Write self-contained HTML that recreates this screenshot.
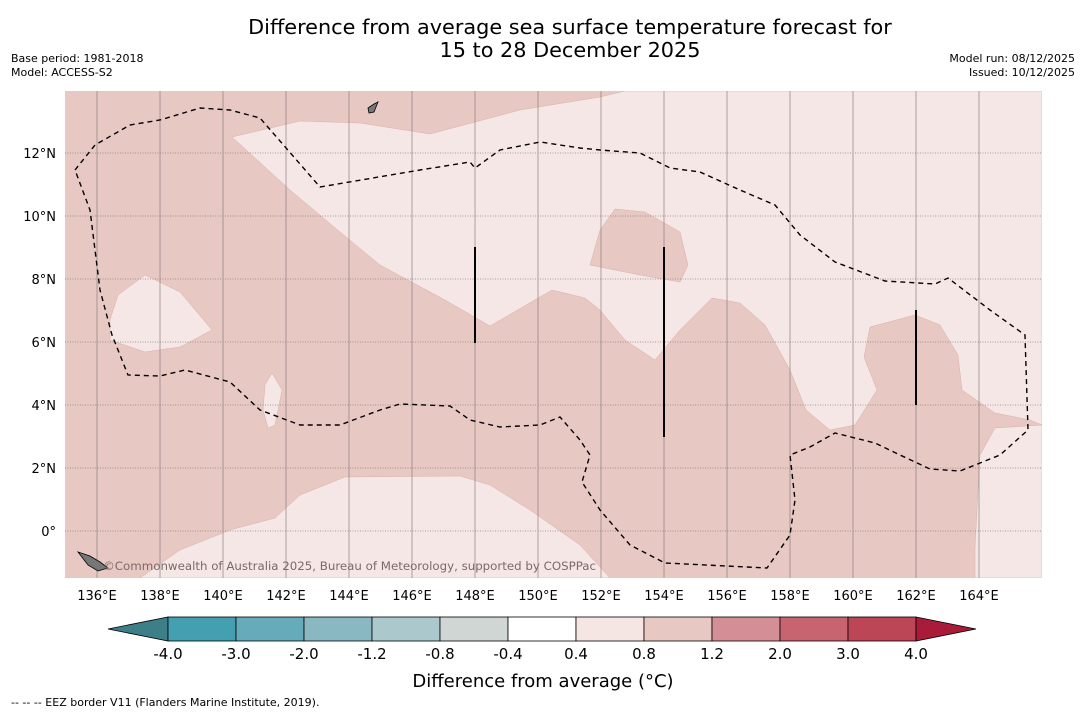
<!DOCTYPE html>
<html><head><meta charset="utf-8"><style>
body{margin:0;background:#fff;width:1085px;height:713px;overflow:hidden;font-family:"Liberation Sans","DejaVu Sans",sans-serif;}
svg{position:absolute;left:0;top:0}
</style></head><body>
<svg width="1085" height="713" font-family="DejaVu Sans, Liberation Sans, sans-serif">
<text x="570" y="34" text-anchor="middle" font-size="20.8">Difference from average sea surface temperature forecast for</text>
<text x="570" y="57" text-anchor="middle" font-size="20.8">15 to 28 December 2025</text>
<text x="11" y="62" font-size="11">Base period: 1981-2018</text>
<text x="11" y="76" font-size="11">Model: ACCESS-S2</text>
<text x="1075" y="62" font-size="11" text-anchor="end">Model run: 08/12/2025</text>
<text x="1075" y="76" font-size="11" text-anchor="end">Issued: 10/12/2025</text>
<g>
<clipPath id="mc"><rect x="65" y="91" width="977" height="487"/></clipPath>
<g clip-path="url(#mc)">
<rect x="65" y="91" width="977" height="487" fill="#e8c8c3"/>
<polygon fill="#f5e7e5" stroke="#d8b0ab" stroke-width="0.5" points="232,137 300,121 360,123 430,134 520,110 600,97 625,91 1042,91 1042,425 1030,420 995,413 962,390 958,355 940,325 915,315 870,327 864,357 877,390 855,425 830,430 806,410 790,370 765,325 740,303 712,298 680,330 655,360 625,340 600,310 585,298 552,290 490,326 445,300 380,265 340,232 290,190"/>
<polygon fill="#e8c8c3" stroke="#d8b0ab" stroke-width="0.5" points="590,265 600,230 615,209 645,212 680,232 688,265 680,282 640,275"/>
<polygon fill="#f5e7e5" stroke="#d8b0ab" stroke-width="0.5" points="140,578 180,550 230,530 275,518 300,495 345,477 460,476 490,485 530,510 580,545 610,578"/>
<polygon fill="#f5e7e5" stroke="#d8b0ab" stroke-width="0.5" points="975,578 975,548 978,490 980,455 995,428 1042,425 1042,578"/>
<polygon fill="#f5e7e5" stroke="#d8b0ab" stroke-width="0.5" points="110,320 118,295 145,275 180,292 212,330 180,347 145,352 110,340"/>
<polygon fill="#f5e7e5" stroke="#d8b0ab" stroke-width="0.5" points="265,385 272,373 282,390 275,425 268,428 263,410"/>
<g id="grid" stroke="#8a8080" stroke-width="0.7"></g>
<polyline fill="none" stroke="#000" stroke-width="1.4" stroke-dasharray="5,4" points="75,170 95,145 130,125 160,120 200,108 230,110 260,118 320,187 420,170 470,162 475,168 500,150 540,142 580,148 600,150 640,153 670,168 700,172 740,190 775,205 800,235 835,262 885,281 935,284 948,278 990,310 1025,335 1028,430 1000,455 960,471 930,469 900,455 875,443 835,433 810,447 790,455 795,500 790,535 767,568 665,563 630,545 600,510 582,482 590,455 580,440 560,417 540,425 500,427 470,420 450,406 400,404 380,410 340,425 300,425 260,410 230,382 185,370 160,376 128,375 112,335 100,290 90,210 75,170"/>
<g stroke="#000" stroke-width="2">
<line x1="475" y1="247" x2="475" y2="343"/><line x1="664" y1="247" x2="664" y2="437"/><line x1="916" y1="310" x2="916" y2="405"/></g>
<polygon fill="#777" stroke="#000" stroke-width="0.8" points="78,552 90,556 100,562 108,568 98,571 88,565"/>
<polygon fill="#777" stroke="#000" stroke-width="0.8" points="368,108 374,104 378,102 374,112 369,113"/>
<text x="103" y="570" font-size="11.8" fill="#7a6a68">©Commonwealth of Australia 2025, Bureau of Meteorology, supported by COSPPac</text>
</g>
<g id="ticks" font-size="13"></g>
</g>
<g id="cbar"></g>
<text x="543" y="687" text-anchor="middle" font-size="18">Difference from average (°C)</text>
<text x="11" y="706" font-size="11">-- -- -- EEZ border V11 (Flanders Marine Institute, 2019).</text>
</svg>
<script>
const lonTicks=[136,138,140,142,144,146,148,150,152,154,156,158,160,162,164];
const latTicks=[12,10,8,6,4,2,0];
const cbLabels=["-4.0","-3.0","-2.0","-1.2","-0.8","-0.4","0.4","0.8","1.2","2.0","3.0","4.0"];
const cbColors=["#449fb0","#66abb9","#89b7c2","#abc9cd","#d0d6d4","#ffffff","#f5e6e4","#e8c8c3","#d48e95","#c86470","#bc4656"];
const NS="http://www.w3.org/2000/svg";
const xL=lon=>97+(lon-136)*31.5, yL=lat=>531-lat*31.5;
const grid=document.getElementById('grid'),ticks=document.getElementById('ticks');
function mk(t,a){const e=document.createElementNS(NS,t);for(const k in a)e.setAttribute(k,a[k]);return e;}
lonTicks.forEach(l=>{const ln=mk('line',{x1:xL(l),x2:xL(l),y1:91,y2:578});

grid.appendChild(ln);
const t=mk('text',{x:xL(l),y:600,'text-anchor':'middle'});t.textContent=l+'°E';

ticks.appendChild(t);});
latTicks.forEach(l=>{const ln=mk('line',{x1:65,x2:1042,y1:yL(l),y2:yL(l),'stroke-dasharray':'1,1.5'});

grid.appendChild(ln);
const t=mk('text',{x:56,y:yL(l)+5,'text-anchor':'end'});t.textContent=l===0?'0°':l+'°N';

ticks.appendChild(t);});
const cb=document.getElementById('cbar');const x0=168,w=68,y0=617,h=24;
const lo=mk('polygon',{points:`108,${y0+h/2} ${x0},${y0} ${x0},${y0+h}`,fill:'#3c7f88',stroke:'#000','stroke-width':0.8});

cb.appendChild(lo);
cbColors.forEach((c,i)=>{const r=mk('rect',{x:x0+i*w,y:y0,width:w,height:h,fill:c,stroke:'#000','stroke-width':0.8});

cb.appendChild(r);});
const xe=x0+cbColors.length*w;
const hi=mk('polygon',{points:`${xe},${y0} ${xe+60},${y0+h/2} ${xe},${y0+h}`,fill:'#a81c3a',stroke:'#000','stroke-width':0.8});

cb.appendChild(hi);
cbLabels.forEach((s,i)=>{const t=mk('text',{x:x0+i*w,y:659,'text-anchor':'middle','font-size':15});t.textContent=s;

cb.appendChild(t);});
</script>
</body></html>
